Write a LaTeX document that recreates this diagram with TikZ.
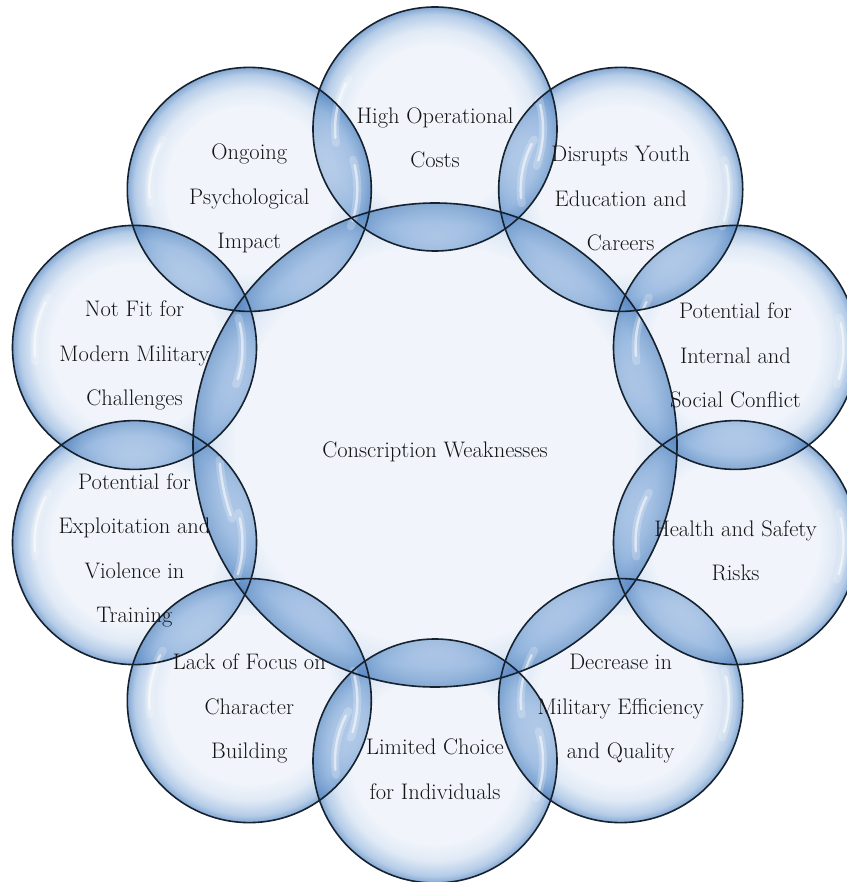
\documentclass[tikz,border=0pt]{standalone}
\begin{document}
\definecolor{bIn}{HTML}{EDF2FA}
\definecolor{bA}{HTML}{D8E4F3}
\definecolor{bB}{HTML}{A3C0E2}
\definecolor{bC}{HTML}{6592C8}
\definecolor{lL}{HTML}{C8DBF1}
\definecolor{lM}{HTML}{93B5DF}
\definecolor{lD}{HTML}{5485C0}
\definecolor{rim}{HTML}{16222F}
\pgfdeclareradialshading{bubble}{\pgfpoint{0bp}{0bp}}{%
  color(0bp)=(bIn); color(17bp)=(bIn); color(20.5bp)=(bA); color(23.5bp)=(bB); color(25bp)=(bC); color(50bp)=(bC)}
\pgfdeclareradialshading{bigbubble}{\pgfpoint{0bp}{0bp}}{%
  color(0bp)=(bIn); color(20.5bp)=(bIn); color(22.7bp)=(bA); color(24.3bp)=(bB); color(25bp)=(bC); color(50bp)=(bC)}
\pgfdeclareradialshading{lensS}{\pgfpoint{0bp}{0bp}}{%
  color(0bp)=(lL); color(16bp)=(lL); color(22bp)=(lM); color(25bp)=(lD); color(50bp)=(lD)}
\pgfdeclareradialshading{lensL}{\pgfpoint{0bp}{0bp}}{%
  color(0bp)=(lL); color(20bp)=(lL); color(23bp)=(lM); color(25bp)=(lD); color(50bp)=(lD)}
\newcommand\lensfill[5]{\begin{scope}\clip (#1.center) circle[radius=#2];
  \shade[shading=#5, fill opacity=0.6] (#3.center) circle[radius=#4];\end{scope}}
\begin{tikzpicture}[x=1pt,y=-1pt,
  outer/.style={circle, minimum size=244pt, inner sep=0pt},
  central/.style={circle, minimum size=484pt, inner sep=0pt},
  rimline/.style={draw=rim, line width=1.6pt},
  hl/.style={draw=white, line width=2.5pt, line cap=round, draw opacity=0.55},
  hlsoft/.style={draw=white, line width=8pt, line cap=round, draw opacity=0.22},
  lbl/.style={font=\fontsize{22.5}{44.5}\selectfont, align=center, text=black!92, inner sep=0pt}]
\useasboundingbox (0,0) rectangle (846,882);
\node[central] (c) at (435,445) {};
\node[outer] (n1) at (435,129) {};
\node[outer] (n2) at (620.7,189.4) {};
\node[outer] (n3) at (735.5,347.4) {};
\node[outer] (n4) at (735.5,542.6) {};
\node[outer] (n5) at (620.7,700.6) {};
\node[outer] (n6) at (435,761) {};
\node[outer] (n7) at (249.3,700.6) {};
\node[outer] (n8) at (134.5,542.6) {};
\node[outer] (n9) at (134.5,347.4) {};
\node[outer] (n10) at (249.3,189.4) {};
% base fills
\begin{scope}[fill opacity=0.8]
  \shade[shading=bigbubble] (c.center) circle[radius=242];
  \foreach \n in {n1,n2,n3,n4,n5,n6,n7,n8,n9,n10}{
    \shade[shading=bubble] (\n.center) circle[radius=122];
  }
\end{scope}
% overlap lenses
\foreach \a/\b in {n1/n2,n2/n3,n3/n4,n4/n5,n5/n6,n6/n7,n7/n8,n8/n9,n9/n10,n10/n1}{
  \lensfill{\a}{122}{\b}{122}{lensS}
  \lensfill{\b}{122}{\a}{122}{lensS}
}
\foreach \n in {n1,n2,n3,n4,n5,n6,n7,n8,n9,n10}{
  \lensfill{c}{242}{\n}{122}{lensS}
  \lensfill{\n}{122}{c}{242}{lensL}
}
% highlights
\foreach \n in {n1,n2,n3,n4,n5,n6,n7,n8,n9,n10}{
  \draw[hlsoft] ([shift={(172:100)}]\n.center) arc[start angle=172, end angle=210, radius=100];
  \draw[hl] ([shift={(175:100)}]\n.center) arc[start angle=175, end angle=207, radius=100];
  \draw[hlsoft] ([shift={(-16:108)}]\n.center) arc[start angle=-16, end angle=20, radius=108];
  \draw[hl] ([shift={(-13:108)}]\n.center) arc[start angle=-13, end angle=17, radius=108];
}
\draw[hlsoft] ([shift={(160:216)}]c.center) arc[start angle=160, end angle=176, radius=216];
\draw[hl] ([shift={(161:216)}]c.center) arc[start angle=161, end angle=175, radius=216];
% rims
\draw[rimline] (c.center) circle[radius=242];
\foreach \n in {n1,n2,n3,n4,n5,n6,n7,n8,n9,n10}{
  \draw[rimline] (\n.center) circle[radius=122];
}
\node[lbl] (t0) at ([yshift=-7pt]c.center) {Conscription Weaknesses};
\node[lbl] (t1) at ([yshift=-9pt]n1.center) {High Operational\\Costs};
\node[lbl] (t2) at ([yshift=-9pt]n2.center) {Disrupts Youth\\Education and\\Careers};
\node[lbl] (t3) at ([yshift=-8pt]n3.center) {Potential for\\Internal and\\Social Conflict};
\node[lbl] (t4) at ([yshift=-8pt]n4.center) {Health and Safety\\Risks};
\node[lbl] (t5) at ([yshift=-8pt]n5.center) {Decrease in\\Military Efficiency\\and Quality};
\node[lbl] (t6) at ([yshift=-8pt]n6.center) {Limited Choice\\for Individuals};
\node[lbl] (t7) at ([yshift=-8pt]n7.center) {Lack of Focus on\\Character\\Building};
\node[lbl] (t8) at ([yshift=-8pt]n8.center) {Potential for\\Exploitation and\\Violence in\\Training};
\node[lbl] (t9) at ([yshift=-8pt]n9.center) {Not Fit for\\Modern Military\\Challenges};
\node[lbl] (t10) at ([yshift=-9pt]n10.center) {Ongoing\\Psychological\\Impact};
\end{tikzpicture}
\end{document}
